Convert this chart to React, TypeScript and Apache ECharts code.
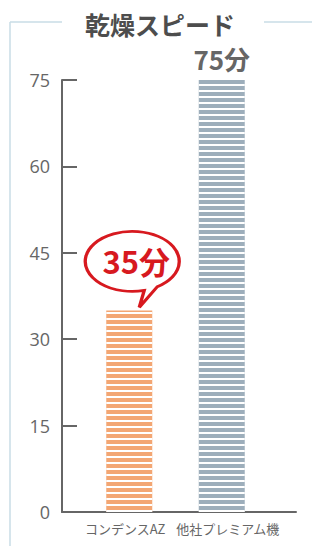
import React, { useEffect, useRef } from "react";
import * as echarts from "echarts";

const categories = ["コンデンスAZ", "他社プレミアム機"];
const dryingMinutes = [35, 75];
const barColors = ["#f3a673", "#9daebb"];
const yTicks = { min: 0, max: 75, interval: 15 };
const titleText = "乾燥スピード";
const unit = "分";

const bubblePath = "path://M62 61 A47 30 0 1 1 75 57.4 L57 78 Z";

export default function App() {
  const ref = useRef<HTMLDivElement>(null);
  useEffect(() => {
    if (!ref.current) return;
    const chart = echarts.init(ref.current, undefined, { renderer: "svg" });
    const decal = {
      symbol: "rect",
      symbolSize: 1,
      dashArrayX: [1, 0],
      dashArrayY: [2, 4],
      rotation: 0,
      color: "#ffffff",
    };
    const catLabelStyle = {
      fontSize: 13,
      color: "#666",
      fontFamily: "'Noto Sans CJK JP', sans-serif",
    };
    const option: any = {
      animation: false,
      backgroundColor: "#ffffff",
      textStyle: { fontFamily: "'Noto Sans CJK JP', 'Noto Sans', sans-serif" },
      grid: [
        { left: 83, right: 44, top: 80, bottom: 34 },
        { left: 62, right: 16, top: 80, bottom: 34 },
      ],
      xAxis: [
        {
          type: "category",
          gridIndex: 0,
          data: categories,
          axisLine: { show: false },
          axisTick: { show: false },
          axisLabel: {
            interval: 0,
            hideOverlap: false,
            margin: 10,
            ...catLabelStyle,
            formatter: (v: string, i: number) => (i === 0 ? `{a|${v}}` : `{b|${v}}`),
            rich: {
              a: { ...catLabelStyle, padding: [0, 8, 0, 0] },
              b: { ...catLabelStyle, padding: [0, 0, 0, 12] },
            },
          },
        },
        {
          type: "value",
          gridIndex: 1,
          min: 0,
          max: 1,
          axisLine: { show: true, lineStyle: { color: "#666", width: 2 } },
          axisTick: { show: false },
          axisLabel: { show: false },
          splitLine: { show: false },
        },
      ],
      yAxis: [
        {
          type: "value",
          gridIndex: 0,
          min: yTicks.min,
          max: yTicks.max,
          interval: yTicks.interval,
          show: false,
        },
        {
          type: "value",
          gridIndex: 1,
          min: yTicks.min,
          max: yTicks.max,
          interval: yTicks.interval,
          axisLine: { show: true, lineStyle: { color: "#666", width: 2 } },
          axisTick: {
            show: true,
            inside: true,
            length: 15,
            lineStyle: { color: "#666", width: 2 },
          },
          axisLabel: {
            fontSize: 18,
            color: "#666",
            margin: 12,
            fontFamily: "'Open Sans', 'Noto Sans', sans-serif",
          },
          splitLine: { show: false },
        },
      ],
      series: [
        {
          type: "bar",
          xAxisIndex: 0,
          yAxisIndex: 0,
          barWidth: 46,
          data: dryingMinutes.map((v, i) => ({
            value: v,
            itemStyle: { color: barColors[i], decal },
            label:
              i === 1
                ? {
                    show: true,
                    position: "top",
                    distance: 9,
                    formatter: "{c}" + unit,
                    fontSize: 26,
                    fontWeight: "bold",
                    color: "#666",
                  }
                : { show: false },
          })),
          markPoint: {
            silent: true,
            symbol: bubblePath,
            symbolSize: [94, 76],
            symbolOffset: [3, -41],
            itemStyle: { color: "#ffffff", borderColor: "#d7191f", borderWidth: 3 },
            label: {
              show: true,
              position: "inside",
              offset: [4, -9],
              formatter: dryingMinutes[0] + unit,
              fontSize: 31,
              fontWeight: "bold",
              color: "#d7191f",
            },
            data: [{ coord: [0, dryingMinutes[0]] }],
          },
        },
      ],
      graphic: [
        {
          type: "line",
          shape: { x1: 10, y1: 22, x2: 62, y2: 22 },
          style: { stroke: "#c8dce6", lineWidth: 1.5 },
        },
        {
          type: "line",
          shape: { x1: 264, y1: 22, x2: 312, y2: 22 },
          style: { stroke: "#c8dce6", lineWidth: 1.5 },
        },
        {
          type: "line",
          shape: { x1: 10, y1: 22, x2: 10, y2: 546 },
          style: { stroke: "#c8dce6", lineWidth: 1.5 },
        },
        {
          type: "text",
          x: 160,
          y: 24,
          style: {
            text: titleText,
            fontSize: 25,
            fontWeight: "bold",
            fill: "#4d4d4d",
            align: "center",
            verticalAlign: "middle",
            fontFamily: "'Noto Sans CJK JP', sans-serif",
          },
        },
      ],
    };
    chart.setOption(option);
    return () => chart.dispose();
  }, []);
  return <div ref={ref} style={{ width: 312, height: 546, position: "absolute", left: 0, top: 0 }} />;
}
